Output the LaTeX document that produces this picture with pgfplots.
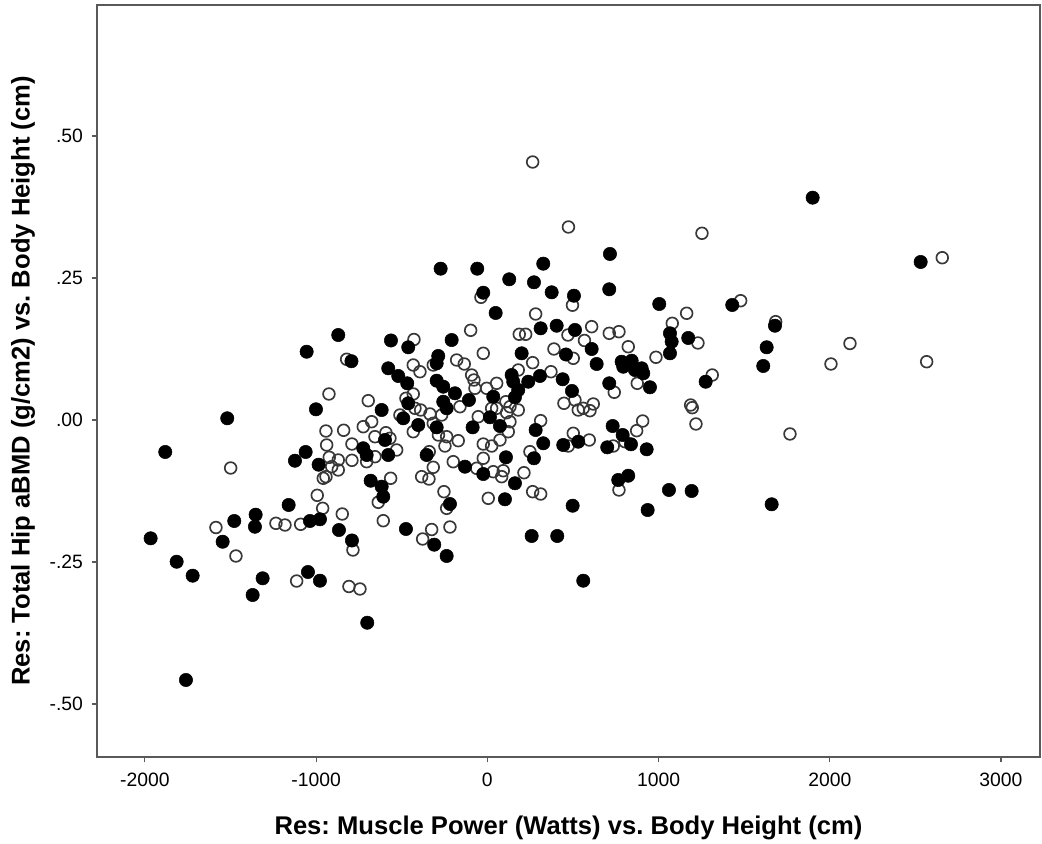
\documentclass[border=0pt]{standalone}
\usepackage{pgfplots}
\pgfplotsset{compat=1.18}
\usepackage{fontspec}
\setmainfont{Liberation Sans}
\frenchspacing
\definecolor{axgray}{rgb}{0.35,0.35,0.35}
\definecolor{ringgray}{rgb}{0.22,0.22,0.22}
\begin{document}
\begin{tikzpicture}
\useasboundingbox (-72.75pt,-64.5pt) rectangle (708.75pt,567.75pt);
\begin{axis}[
  at={(0,0)}, anchor=south west,
  scale only axis, width=707.25pt, height=564pt,
  xmin=-2280, xmax=3228, ymin=-0.5933, ymax=0.7306,
  axis line style={axgray, line width=0.8pt},
  xtick={-2000,-1000,0,1000,2000,3000},
  xticklabels={-2000,-1000,0,1000,2000,3000},
  ytick={-0.5,-0.25,0,0.25,0.5},
  yticklabels={-.50,-.25,.00,.25,.50},
  xtick pos=bottom, ytick pos=left,
  tick align=outside, major tick length=4pt,
  tick style={axgray, line width=0.8pt},
  ticklabel style={font=\fontsize{14.5}{16}\selectfont},
  xticklabel style={yshift=-4.5pt},
  yticklabel style={xshift=-3pt},
  xlabel={Res: Muscle Power (Watts) vs. Body Height (cm)},
  ylabel={Res: Total Hip aBMD (g/cm2) vs. Body Height (cm)},
  label style={font=\fontsize{19.2}{22}\selectfont\bfseries},
  xlabel style={at={(rel axis cs:0.5,0)}, anchor=center, yshift=-53.25pt},
  ylabel style={at={(rel axis cs:0,0.5)}, anchor=center, yshift=55.5pt},
  clip=true,
]
\addplot[only marks, mark=o, mark size=4.4pt, mark options={draw=ringgray, line width=1.25pt}] table {
x y
264.6 0.4542
473.7 0.3398
-37.4 0.2160
282.1 0.1866
497.1 0.2021
-97.5 0.1579
186.3 0.1509
223.7 0.1509
-428.7 0.1417
470.8 0.1496
1253.5 0.3287
1164.1 0.1879
1080.0 0.1702
1230.1 0.1356
1479.5 0.2100
1684.0 0.1731
609.2 0.1643
567.2 0.1400
712.0 0.1526
768.7 0.1555
2657.1 0.2857
2118.0 0.1347
2007.0 0.0986
2566.0 0.1026
1767.5 -0.0246
-821.8 0.1069
-925.2 0.0458
-1499.4 -0.0845
-942.7 -0.0194
-839.3 -0.0181
-938.6 -0.0440
-790.9 -0.0423
-923.5 -0.0657
-870.9 -0.0704
-909.4 -0.0822
-870.9 -0.0880
-942.7 -0.0998
-958.5 -0.1026
-790.9 -0.0710
-993.6 -0.1326
-962.0 -0.1555
-847.5 -0.1655
-1585.2 -0.1893
-1234.8 -0.1819
-1182.2 -0.1849
-1090.5 -0.1836
-1468.4 -0.2394
-1113.9 -0.2835
-808.4 -0.2931
-744.1 -0.2975
-785.0 -0.2289
-377.9 -0.2095
-325.3 -0.1928
-218.5 -0.1884
501.7 0.1086
823.0 0.1290
984.8 0.1104
1313.6 0.0792
741.2 0.0488
875.6 0.0646
511.7 0.0352
531.0 0.0176
599.3 0.0164
618.6 0.0282
560.2 0.0206
1187.5 0.0264
1196.8 0.0217
1218.4 -0.0070
907.1 -0.0018
872.1 -0.0188
803.7 -0.0382
735.4 -0.0458
595.2 -0.0352
501.7 -0.0234
768.7 -0.1232
389.0 0.1250
-316.0 0.0968
-179.3 0.1056
-134.9 0.0986
-23.9 0.1174
264.6 0.1009
-432.8 0.0968
-393.7 0.0850
-91.7 0.0792
-78.3 0.0704
-72.4 0.0558
180.5 0.0880
371.5 0.0850
54.3 0.0646
-4.1 0.0558
-160.0 0.0234
108.6 0.0322
132.0 0.0234
112.7 0.0129
180.5 0.0176
54.3 0.0206
25.1 0.0206
-695.7 0.0340
-432.8 0.0458
-475.5 0.0382
-422.9 0.0206
-389.6 0.0176
-335.3 0.0106
-266.9 0.0088
-510.5 0.0088
-432.8 -0.0206
-316.0 -0.0058
-285.6 -0.0264
-237.7 -0.0294
-247.7 -0.0458
-170.0 -0.0364
-53.2 0.0058
132.0 -0.0030
122.1 -0.0206
73.6 -0.0352
25.1 -0.0458
-23.9 -0.0423
311.3 -0.0012
447.4 0.0294
472.5 -0.0458
248.8 -0.0558
-724.9 -0.0118
-675.8 -0.0030
-656.5 -0.0294
-592.3 -0.0224
-568.9 -0.0322
-529.8 -0.0528
-705.0 -0.0734
-656.5 -0.0646
-339.4 -0.0558
-316.0 -0.0833
-383.8 -0.0998
-341.1 -0.1039
-199.2 -0.0734
-23.9 -0.0674
-62.5 -0.0850
92.9 -0.0893
83.5 -0.0998
34.5 -0.0910
213.8 -0.0928
-564.8 -0.1026
-637.3 -0.1449
-253.5 -0.1262
-237.7 -0.1555
5.3 -0.1379
264.6 -0.1262
311.3 -0.1303
-608.0 -0.1773
};
\addplot[only marks, mark=*, mark size=5pt, mark options={draw=black, fill=black, line width=0.4pt}] table {
x y
-870.9 0.1496
-1055.5 0.1202
-793.8 0.1035
-1001.1 0.0188
-1519.2 0.0030
-1881.4 -0.0563
-1061.3 -0.0563
-1123.8 -0.0717
-985.4 -0.0787
-1160.6 -0.1496
-1353.4 -0.1667
-1357.5 -0.1879
-1478.4 -0.1778
-1036.2 -0.1778
-977.8 -0.1748
-866.8 -0.1937
-1966.7 -0.2083
-1546.1 -0.2143
-1814.8 -0.2495
-1721.3 -0.2741
-1312.5 -0.2787
-1370.9 -0.3081
-1047.9 -0.2676
-977.8 -0.2829
-1760.5 -0.4577
-790.9 -0.2121
-701.5 -0.3569
-475.5 -0.1919
-310.2 -0.2195
-237.7 -0.2394
258.8 -0.2042
408.3 -0.2042
560.2 -0.2829
-272.8 0.2664
-59.0 0.2664
326.5 0.2752
127.9 0.2477
272.2 0.2424
375.6 0.2248
-23.9 0.2241
48.5 0.1884
311.3 0.1614
404.8 0.1660
505.8 0.2188
-563.1 0.1400
-208.5 0.1408
716.1 0.2923
712.0 0.2301
1004.1 0.2042
1066.6 0.1526
1173.5 0.1444
1430.5 0.2025
1679.9 0.1660
511.7 0.1585
1900.1 0.3914
2530.9 0.2782
609.2 0.1250
459.1 0.1153
638.4 0.0986
784.4 0.1026
842.9 0.1044
793.8 0.0938
862.1 0.0880
901.3 0.0910
910.6 0.0822
1066.6 0.1174
1076.5 0.1379
1631.4 0.1280
1611.5 0.0951
1275.1 0.0674
712.0 0.0646
949.7 0.0576
494.1 0.0511
731.9 -0.0106
790.3 -0.0264
838.8 -0.0428
531.0 -0.0382
700.3 -0.0481
930.5 -0.0516
764.6 -0.1056
823.0 -0.0981
1060.7 -0.1232
1193.3 -0.1250
498.2 -0.1509
936.3 -0.1585
1660.6 -0.1484
-462.0 0.1280
-286.8 0.1127
-296.1 0.0998
200.3 0.1174
-578.8 0.0910
-520.4 0.0775
-467.9 0.0646
-296.1 0.0692
-257.6 0.0586
141.9 0.0792
151.3 0.0674
180.5 0.0528
161.2 0.0400
238.9 0.0674
307.2 0.0775
439.8 0.0717
34.5 0.0410
-189.2 0.0470
-107.5 0.0352
-617.4 0.0176
-462.0 0.0294
-257.6 0.0322
-237.7 0.0206
-491.2 0.0030
-403.6 -0.0088
-296.1 -0.0129
15.2 0.0048
-85.9 -0.0129
73.6 -0.0106
282.1 -0.0176
326.5 -0.0410
443.3 -0.0440
272.2 -0.0674
-598.1 -0.0352
-724.9 -0.0498
-705.0 -0.0616
-578.8 -0.0616
-354.5 -0.0616
-130.8 -0.0822
-23.9 -0.0951
108.6 -0.0657
161.2 -0.1114
-681.6 -0.1069
-617.4 -0.1174
-608.0 -0.1350
-218.5 -0.1479
102.8 -0.1396
};
\end{axis}
\end{tikzpicture}
\end{document}
